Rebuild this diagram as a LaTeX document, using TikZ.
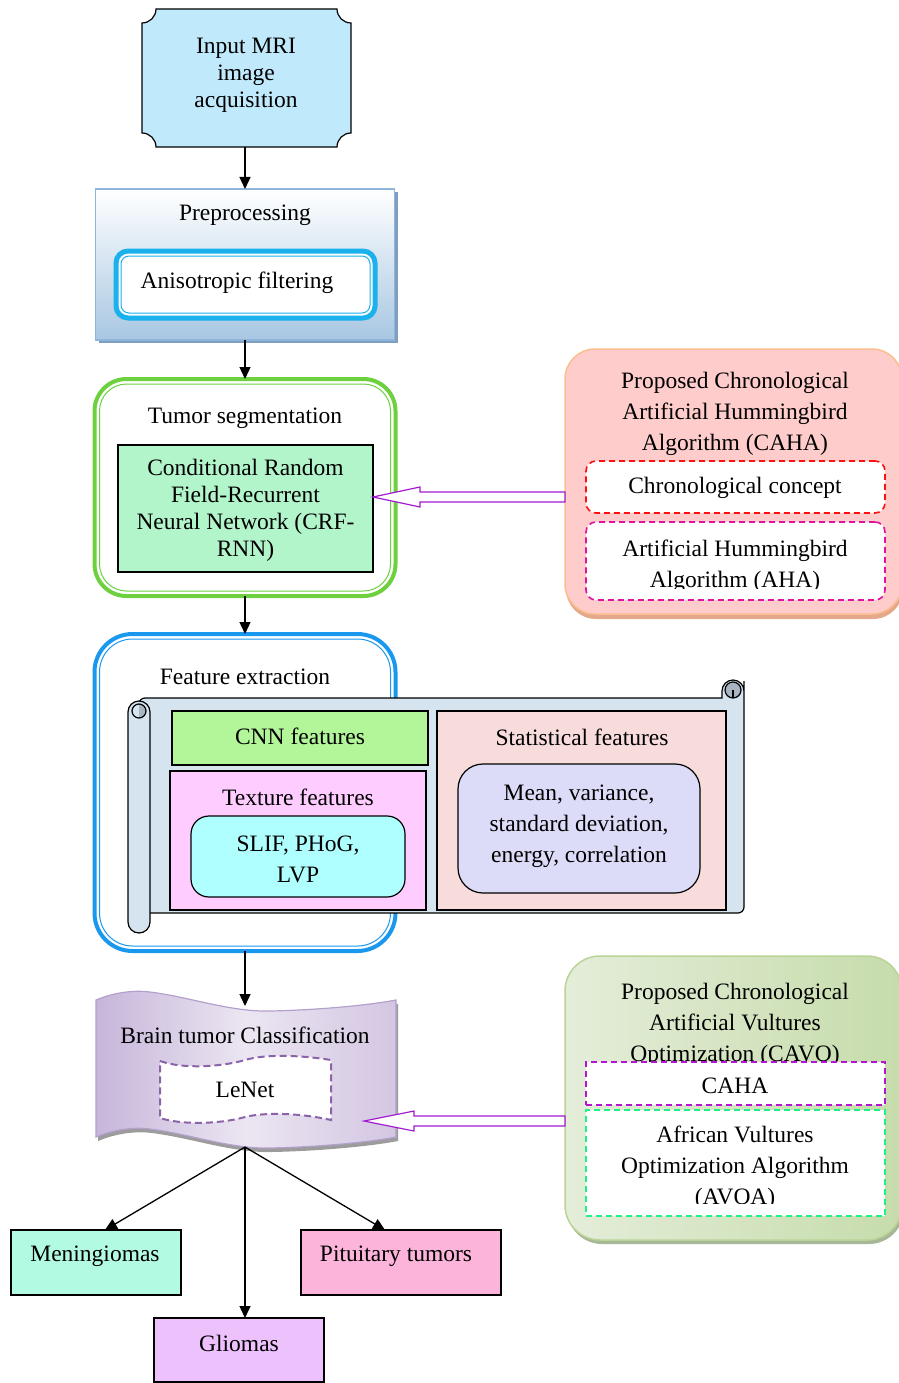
\documentclass[tikz,border=0pt]{standalone}
\usepackage{fontspec}
\setmainfont{Liberation Serif}
\usetikzlibrary{arrows.meta,calc,shadows}
\definecolor{inputc}{HTML}{C0EAFC}
\definecolor{prepc}{HTML}{A8C7E2}
\definecolor{prepb}{HTML}{8FB5DB}
\definecolor{prepsh}{HTML}{7F9FC2}
\definecolor{cyanc}{HTML}{1BB1EC}
\definecolor{greenc}{HTML}{6DD03F}
\definecolor{crfc}{HTML}{B3F5CB}
\definecolor{cahac}{HTML}{FFCCCC}
\definecolor{cahab}{HTML}{FBBE8E}
\definecolor{cahash}{HTML}{E3A98A}
\definecolor{redc}{HTML}{FF1010}
\definecolor{magc}{HTML}{E0129E}
\definecolor{harrowc}{HTML}{A21ACF}
\definecolor{bluec}{HTML}{1A98EE}
\definecolor{scrollc}{HTML}{D6E4EF}
\definecolor{curlc}{HTML}{A9B6C2}
\definecolor{cnnc}{HTML}{B2F699}
\definecolor{texc}{HTML}{FFCCFF}
\definecolor{slifc}{HTML}{AFFFFF}
\definecolor{statc}{HTML}{F8DCDC}
\definecolor{meanc}{HTML}{DCDCF9}
\definecolor{brainl}{HTML}{C6B5DA}
\definecolor{brainm}{HTML}{ECE6F2}
\definecolor{brainr}{HTML}{D3C6E2}
\definecolor{brainb}{HTML}{B4A0CC}
\definecolor{brainsh}{HTML}{9C9C9C}
\definecolor{lenetc}{HTML}{8A63A8}
\definecolor{cavol}{HTML}{E4EDD9}
\definecolor{cavor}{HTML}{C6DCAB}
\definecolor{cavob}{HTML}{B9D496}
\definecolor{cavosh}{HTML}{A7B898}
\definecolor{purc}{HTML}{B414D2}
\definecolor{grnd}{HTML}{1EF08A}
\definecolor{menc}{HTML}{B3FAE3}
\definecolor{pitc}{HTML}{FDB4DA}
\definecolor{glic}{HTML}{EDC1FC}
\begin{document}
\begin{tikzpicture}[x=1pt,y=-1pt,
  every node/.style={inner sep=0pt, outer sep=0pt},
  txt/.style={font=\fontsize{23.5pt}{27pt}\selectfont, align=center},
  txtw/.style={font=\fontsize{23.5pt}{31pt}\selectfont, align=center},
  box/.style={draw=black, line width=1.2pt, rectangle},
  flowarr/.style={line width=1.3pt, -{Triangle[length=12pt,width=11pt]}},
  harrow/.style={draw=harrowc, fill=white, line width=1.2pt, line join=miter},
  dashbox/.style={fill=white, line width=1.6pt, dash pattern=on 6pt off 4pt},
  scrollst/.style={draw=black, line width=1.2pt, fill=scrollc}]
\useasboundingbox (0,0) rectangle (898,1383);

% ---------- Input
\draw[fill=inputc, line width=1.2pt] (156,9) -- (337,9) .. controls (337,16.7) and (343.3,23) .. (351,23)
  -- (351,133) .. controls (343.3,133) and (337,139.3) .. (337,147)
  -- (156,147) .. controls (156,139.3) and (149.7,133) .. (142,133)
  -- (142,23) .. controls (149.7,23) and (156,16.7) .. (156,9) -- cycle;
\node[minimum width=209pt, minimum height=138pt] (input) at (245,78) {};
\node[txt] (inputT) at (246,75) {Input MRI\\image\\acquisition};

% ---------- Preprocessing
\node[draw=prepb, line width=1.5pt, top color=white, bottom color=prepc,
  minimum width=299pt, minimum height=151pt,
  drop shadow={shadow xshift=3pt, shadow yshift=-3pt, fill=prepsh, opacity=1}] (prep) at (245,264.5) {};
\node[txt] (prepT) at (245,215) {Preprocessing};
\node[draw=cyanc, line width=5pt, fill=white, rounded corners=12pt,
  minimum width=259pt, minimum height=67pt] (anis) at (245.5,284.5) {};
\draw[cyanc, line width=1pt, rounded corners=8pt] ($(anis.north west)+(5,5)$) rectangle ($(anis.south east)+(-5,-5)$);
\node[txt] (anisT) at (237,283) {Anisotropic filtering};

% ---------- Tumor segmentation
\node[draw=greenc, line width=4pt, fill=white, rounded corners=32pt,
  minimum width=301pt, minimum height=217pt] (tumor) at (245,487.5) {};
\draw[greenc, line width=1pt, rounded corners=27pt] ($(tumor.north west)+(5,5)$) rectangle ($(tumor.south east)+(-5,-5)$);
\node[txt] (tumorT) at (245,418) {Tumor segmentation};
\node[box, fill=crfc, minimum width=255pt, minimum height=127pt] (crf) at (245.5,508.5) {};
\node[txt] (crfT) at (245.5,510) {Conditional Random\\Field-Recurrent\\Neural Network (CRF-\\RNN)};

% ---------- CAHA
\node[draw=cahab, line width=1.5pt, fill=cahac, rounded corners=30pt,
  minimum width=337pt, minimum height=265pt,
  drop shadow={shadow xshift=1pt, shadow yshift=-5pt, fill=cahash, opacity=1}] (caha) at (733.5,481.5) {};
\node[txtw] (cahaT) at (735,414) {Proposed Chronological\\Artificial Hummingbird\\Algorithm (CAHA)};
\node[dashbox, draw=redc, rounded corners=10pt, minimum width=299pt, minimum height=52pt] (chron) at (735.5,487) {};
\node[txt] (chronT) at (735,488) {Chronological concept};
\node[dashbox, draw=magc, rounded corners=10pt, minimum width=299pt, minimum height=78pt] (aha) at (735.5,561) {};
\begin{scope}
  \clip (586,522) rectangle (885,588);
  \node[txtw] (ahaT) at (735,566) {Artificial Hummingbird\\Algorithm (AHA)};
\end{scope}
\coordinate (a1tip) at (crf.east |- 0,497);
\draw[harrow] (a1tip) -- ++(47,-10) -- ++(0,5) -- ($(caha.west |- a1tip)+(0,-5)$) -- ++(0,10)
  -- ($(a1tip)+(47,5)$) -- ++(0,5) -- cycle;

% ---------- Feature extraction
\node[draw=bluec, line width=4pt, fill=white, rounded corners=38pt,
  minimum width=301pt, minimum height=317pt] (feat) at (245,792.5) {};
\draw[bluec, line width=1pt, rounded corners=33pt] ($(feat.north west)+(5,5)$) rectangle ($(feat.south east)+(-5,-5)$);
\node[txt] (featT) at (245,677) {Feature extraction};
% scroll
\draw[scrollst] (139,698) -- (722,698) -- (722,692) [rounded corners=11pt] -- (722,680) -- (744,680) -- (744,692)
  [rounded corners=6pt] -- (744,913) -- (139,913) -- cycle;
\draw[scrollst, rounded corners=11pt] (128,701) rectangle (150,933);
\begin{scope}
  \clip (139,700) rectangle (152,722);
  \fill[curlc] (139,711) circle (7);
\end{scope}
\draw[line width=1.2pt] (139,711) circle (7);
\draw[fill=curlc, line width=1.2pt] (733,690) circle (8);
\draw[line width=1.2pt] (733,690) -- (733,698);
\node[box, fill=cnnc, minimum width=256pt, minimum height=54pt] (cnn) at (300,738) {};
\node[txt] (cnnT) at (300,736) {CNN features};
\node[box, fill=texc, minimum width=256pt, minimum height=139pt] (tex) at (298,840.5) {};
\node[txt] (texT) at (298,797) {Texture features};
\node[box, fill=slifc, rounded corners=18pt, minimum width=214pt, minimum height=81pt] (slif) at (298,856.5) {};
\node[txtw] (slifT) at (298,859) {SLIF, PHoG,\\LVP};
\node[box, fill=statc, minimum width=289pt, minimum height=199pt] (stat) at (581.5,810.5) {};
\node[txt] (statT) at (582,737) {Statistical features};
\node[box, fill=meanc, rounded corners=25pt, minimum width=242pt, minimum height=129pt] (mean) at (579,828.5) {};
\node[txtw] (meanT) at (579,826) {Mean, variance,\\standard deviation,\\energy, correlation};

% ---------- Brain tumor classification (wave)
\begin{scope}[shift={(2,4)}]
\fill[brainsh] (96,1000) .. controls (115,992) and (135,990) .. (150,992)
  .. controls (190,997) and (230,1012) .. (270,1011) .. controls (320,1010) and (370,1005) .. (396,1000)
  -- (396,1137) .. controls (370,1142) and (320,1147) .. (270,1148)
  .. controls (230,1149) and (190,1134) .. (150,1129) .. controls (135,1127) and (115,1129) .. (96,1137) -- cycle;
\end{scope}
\draw[draw=brainb, line width=1.2pt, left color=brainl, right color=brainr, middle color=brainm]
  (96,1000) .. controls (115,992) and (135,990) .. (150,992)
  .. controls (190,997) and (230,1012) .. (270,1011) .. controls (320,1010) and (370,1005) .. (396,1000)
  -- (396,1137) .. controls (370,1142) and (320,1147) .. (270,1148)
  .. controls (230,1149) and (190,1134) .. (150,1129) .. controls (135,1127) and (115,1129) .. (96,1137) -- cycle;
\node[minimum width=300pt, minimum height=148pt] (brain) at (245,1073) {};
\coordinate (brtop) at (brain.north |- 0,1006);
\coordinate (brbot) at (brain.south |- 0,1147);
\node[txt] (brainT) at (245,1035) {Brain tumor Classification};
\draw[lenetc, fill=white, line width=2pt, dash pattern=on 7pt off 4pt]
  (160,1061) .. controls (185,1070) and (225,1066) .. (245,1060) .. controls (265,1054) and (300,1055) .. (331,1060)
  -- (331,1120) .. controls (300,1113) and (265,1112) .. (245,1117) .. controls (225,1123) and (185,1126) .. (160,1118) -- cycle;
\node[txt] (lenetT) at (245,1090) {LeNet};

% ---------- CAVO
\node[draw=cavob, line width=1.5pt, left color=cavol, right color=cavor, rounded corners=35pt,
  minimum width=337pt, minimum height=284pt,
  drop shadow={shadow xshift=2pt, shadow yshift=-4pt, fill=cavosh, opacity=1}] (cavo) at (733.5,1098) {};
\node[txtw] (cavoT) at (735,1025) {Proposed Chronological\\Artificial Vultures\\Optimization (CAVO)};
\node[dashbox, draw=purc, minimum width=299pt, minimum height=43pt] (caha2) at (735.5,1083.5) {};
\node[txt] (caha2T) at (735,1086) {CAHA};
\node[dashbox, draw=grnd, minimum width=299pt, minimum height=106pt] (avoa) at (735.5,1163) {};
\begin{scope}
  \clip (586,1110) rectangle (885,1203);
  \node[txtw] (avoaT) at (735,1168) {African Vultures\\Optimization Algorithm\\(AVOA)};
\end{scope}
\coordinate (a2tip) at (brain.east |- 0,1121);
\coordinate (a2t) at ($(a2tip)+(-31,0)$);
\draw[harrow] (a2t) -- ++(50,-10) -- ++(0,5) -- ($(cavo.west |- a2t)+(0,-5)$) -- ++(0,10)
  -- ($(a2t)+(50,5)$) -- ++(0,5) -- cycle;

% ---------- Classes
\node[box, fill=menc, minimum width=170pt, minimum height=65pt] (men) at (96,1262.5) {};
\node[txt] (menT) at (95,1256) {Meningiomas};
\node[box, fill=pitc, minimum width=200pt, minimum height=65pt] (pit) at (401,1262.5) {};
\node[txt] (pitT) at (396,1256) {Pituitary tumors};
\node[box, fill=glic, minimum width=170pt, minimum height=64pt] (gli) at (239,1350) {};
\node[txt] (gliT) at (239,1343) {Gliomas};

% ---------- Connectors
\draw[flowarr] (input.south) -- (prep.north);
\draw[flowarr] (prep.south) -- (tumor.north);
\draw[flowarr] (tumor.south) -- (feat.north);
\draw[flowarr] (feat.south) -- (brtop);
\draw[flowarr] (brbot) -- ($(men.north)+(9,0)$);
\draw[flowarr] (brbot) -- ($(gli.north)+(6,0)$);
\draw[flowarr] (brbot) -- ($(pit.north)+(-16,0)$);
\end{tikzpicture}
\end{document}
